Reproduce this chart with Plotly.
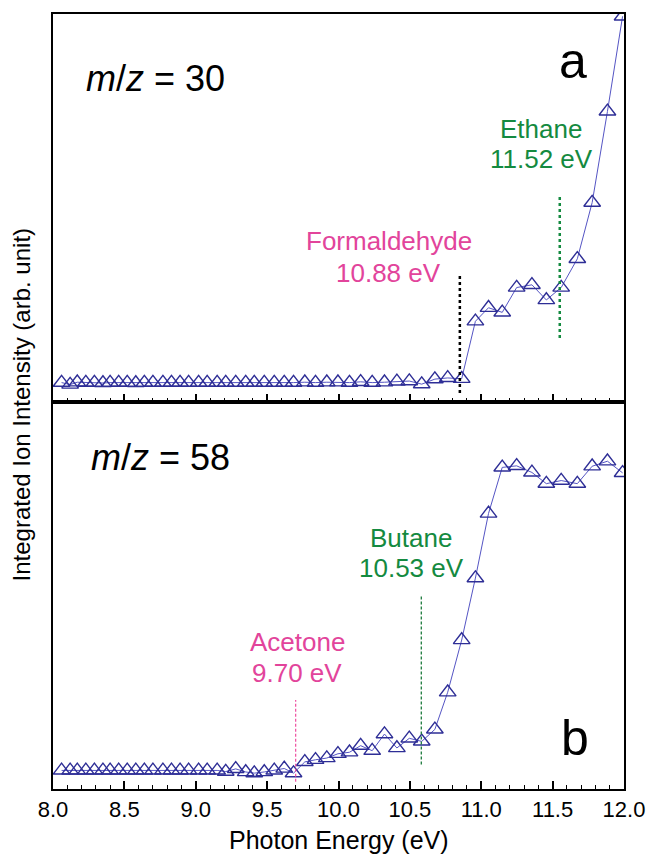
import plotly.graph_objects as go

# ---------------- data ----------------
photon_energy = [8.06, 8.12, 8.17, 8.23, 8.29, 8.35, 8.40, 8.46, 8.52, 8.58, 8.64, 8.70,
                 8.77, 8.83, 8.89, 8.95, 9.02, 9.08, 9.15, 9.21, 9.28, 9.35, 9.41, 9.48,
                 9.55, 9.62, 9.685, 9.764, 9.839, 9.918, 9.996, 10.077, 10.155, 10.236,
                 10.322, 10.409, 10.496, 10.583, 10.675, 10.765, 10.863, 10.959, 11.051,
                 11.147, 11.248, 11.355, 11.456, 11.560, 11.673, 11.777, 11.884, 11.99]

intensity_mz30 = [0.050, 0.045, 0.051, 0.050, 0.050, 0.049, 0.050, 0.050, 0.050, 0.049,
                  0.050, 0.050, 0.050, 0.050, 0.050, 0.050, 0.050, 0.050, 0.050, 0.050,
                  0.050, 0.050, 0.050, 0.050, 0.050, 0.050, 0.050,
                  0.051, 0.050, 0.051, 0.051, 0.050, 0.052, 0.050, 0.051, 0.053, 0.054,
                  0.046, 0.059, 0.062, 0.060, 0.208, 0.243, 0.231, 0.295, 0.302, 0.263,
                  0.295, 0.369, 0.514, 0.749, 0.994]

intensity_mz58 = [0.048, 0.048, 0.048, 0.048, 0.048, 0.048, 0.048, 0.048, 0.048, 0.048,
                  0.048, 0.048, 0.048, 0.048, 0.048, 0.048, 0.048, 0.048, 0.048, 0.045,
                  0.052, 0.044, 0.041, 0.044, 0.048, 0.053, 0.041,
                  0.070, 0.0755, 0.080, 0.091, 0.095, 0.112, 0.099, 0.142, 0.106, 0.131,
                  0.123, 0.154, 0.250, 0.385, 0.545, 0.712, 0.831, 0.835, 0.818, 0.789,
                  0.797, 0.789, 0.834, 0.847, 0.817]

# ionization energy marker lines (position on x axis as drawn)
ie_lines_a = [10.85, 11.55]      # formaldehyde, ethane
ie_lines_b = [9.70, 10.58]       # acetone, butane

x_tick_vals = [8.0, 8.5, 9.0, 9.5, 10.0, 10.5, 11.0, 11.5, 12.0]
x_tick_text = ["8.0", "8.5", "9.0", "9.5", "10.0", "10.5", "11.0", "11.5", "12.0"]

# ---------------- styling ----------------
FONT = "Liberation Sans, Arial, sans-serif"
PINK = "#e2449b"
GREEN = "#148a40"
MARK = "#2e2e96"
LINE = "#5555c4"
W, H = 657, 855
ML, MR, MT, MB = 53, 24, 12, 66
split = 388 / 777

fig = go.Figure()

for y_vals, yax in [(intensity_mz58, "y"), (intensity_mz30, "y2")]:
    fig.add_trace(go.Scatter(
        x=photon_energy, y=y_vals, xaxis="x" if yax == "y" else "x2", yaxis=yax,
        mode="lines+markers",
        line=dict(color=LINE, width=1),
        marker=dict(symbol="triangle-up-open", size=14.5, color=MARK,
                    line=dict(width=1.4, color=MARK)),
        showlegend=False, cliponaxis=True,
    ))

axis_common = dict(range=[8, 12], showline=True, linecolor="black", linewidth=2,
                   mirror=True, ticks="inside", ticklen=8, tickwidth=1.5,
                   tickcolor="black", tickvals=x_tick_vals, ticktext=x_tick_text,
                   showgrid=False, zeroline=False,
                   minor=dict(dtick=0.1, tick0=8, ticks="inside", ticklen=4,
                              tickwidth=1.2, tickcolor="black", showgrid=False))

fig.update_layout(
    width=W, height=H,
    margin=dict(l=ML, r=MR, t=MT, b=MB),
    paper_bgcolor="white", plot_bgcolor="white",
    font=dict(family=FONT, color="black"),
    xaxis=dict(anchor="y", domain=[0, 1], showticklabels=True,
               tickfont=dict(size=22, family=FONT), **axis_common),
    xaxis2=dict(anchor="y2", domain=[0, 1], matches="x", showticklabels=False,
                **axis_common),
    yaxis=dict(domain=[0, split], range=[0, 1], showline=True, linecolor="black",
               linewidth=2, mirror=True, ticks="", showticklabels=False,
               showgrid=False, zeroline=False),
    yaxis2=dict(domain=[split, 1], range=[0, 1], showline=True, linecolor="black",
                linewidth=2, mirror=True, ticks="", showticklabels=False,
                showgrid=False, zeroline=False),
)

# vertical ionization-energy lines
fig.add_shape(type="line", xref="x2", yref="y2", x0=ie_lines_a[0], x1=ie_lines_a[0],
              y0=0.023, y1=0.329, line=dict(color="black", width=2.5, dash="dot"))
fig.add_shape(type="line", xref="x2", yref="y2", x0=ie_lines_a[1], x1=ie_lines_a[1],
              y0=0.165, y1=0.534, line=dict(color=GREEN, width=2.5, dash="dot"))
fig.add_shape(type="line", xref="x", yref="y", x0=ie_lines_b[0], x1=ie_lines_b[0],
              y0=0.019, y1=0.230, line=dict(color="#ee4fa0", width=1.2, dash="3px,2px"))
fig.add_shape(type="line", xref="x", yref="y", x0=ie_lines_b[1], x1=ie_lines_b[1],
              y0=0.063, y1=0.500, line=dict(color="#1c7a3c", width=1.3, dash="3px,2px"))

def ann(text, x, y, yref, xref, size, color="black", xanchor="center"):
    fig.add_annotation(text=text, x=x, y=y, xref=xref, yref=yref, showarrow=False,
                       xanchor=xanchor, yanchor="middle",
                       font=dict(size=size, color=color, family=FONT))

# panel a texts
ann("<i>m</i>/<i>z</i> = 30", 8.215, 0.835, "y2", "x2", 36, xanchor="left")
ann("a", 11.641, 0.879, "y2", "x2", 50)
ann("Ethane", 11.421, 0.704, "y2", "x2", 26, GREEN)
ann("11.52 eV", 11.421, 0.627, "y2", "x2", 26, GREEN)
ann("Formaldehyde", 10.352, 0.414, "y2", "x2", 26, PINK)
ann("10.88 eV", 10.352, 0.332, "y2", "x2", 26, PINK)

# panel b texts
ann("<i>m</i>/<i>z</i> = 58", 8.255, 0.856, "y", "x", 36, xanchor="left")
ann("b", 11.655, 0.131, "y", "x", 50)
ann("Butane", 10.51, 0.649, "y", "x", 26, GREEN)
ann("10.53 eV", 10.51, 0.570, "y", "x", 26, GREEN)
ann("Acetone", 9.71, 0.379, "y", "x", 26, PINK)
ann("9.70 eV", 9.71, 0.299, "y", "x", 26, PINK)

# axis titles
plot_w = W - ML - MR
plot_h = H - MT - MB
fig.add_annotation(text="Photon Energy (eV)", xref="paper", yref="paper",
                   x=(344 - ML) / plot_w, y=(H - MB - 840) / plot_h,
                   showarrow=False, xanchor="center", yanchor="middle",
                   font=dict(size=25, family=FONT, color="black"))
fig.add_annotation(text="Integrated Ion Intensity (arb. unit)", xref="paper", yref="paper",
                   x=(22 - ML) / plot_w, y=(H - MB - 403) / plot_h, textangle=-90,
                   showarrow=False, xanchor="center", yanchor="middle",
                   font=dict(size=24, family=FONT, color="black"))

fig.write_html("out.html")
